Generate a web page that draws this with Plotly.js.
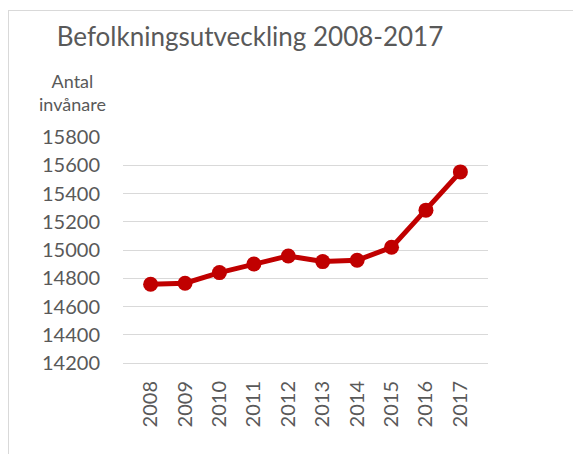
<!DOCTYPE html>
<html>
<head>
<meta charset="utf-8">
<script src="https://cdn.plot.ly/plotly-3.0.1.min.js"></script>
<style>
  html, body { margin: 0; padding: 0; background: #fff; }
  #wrap { position: relative; width: 573px; height: 454px; overflow: hidden; }
  #frame { position: absolute; left: 8px; top: 10px; width: 600px; height: 500px;
           border-left: 1px solid #d9d9d9; border-top: 1px solid #d9d9d9; pointer-events: none; }
  #chart { position: absolute; left: 0; top: 0; width: 573px; height: 454px; }
</style>
</head>
<body>
<div id="wrap">
  <div id="chart"></div>
  <div id="frame"></div>
</div>
<script>
const years = ['2008','2009','2010','2011','2012','2013','2014','2015','2016','2017'];
const population = [14758, 14765, 14840, 14901, 14958, 14918, 14927, 15019, 15282, 15553];
const yTicks = [14200, 14400, 14600, 14800, 15000, 15200, 15400, 15600, 15800];

const FONT = 'Lato, "Open Sans", sans-serif';
const GREY = '#595959';

Plotly.newPlot('chart', [{
  x: years,
  y: population,
  type: 'scatter',
  mode: 'lines+markers',
  line: { color: '#C00000', width: 5 },
  marker: { color: '#C00000', size: 15 },
  hoverinfo: 'x+y'
}], {
  width: 573, height: 454,
  margin: { l: 123, r: 85, t: 137, b: 91 },
  paper_bgcolor: '#fff', plot_bgcolor: '#fff',
  font: { family: FONT, color: GREY },
  title: {
    text: 'Befolkningsutveckling 2008-2017',
    font: { family: FONT, size: 26, color: GREY },
    xref: 'container', x: 250 / 573, xanchor: 'center',
    yref: 'container', y: 1 - 37 / 454, yanchor: 'middle'
  },
  xaxis: {
    type: 'category',
    tickangle: -90,
    tickfont: { family: FONT, size: 20, color: GREY },
    showgrid: false,
    showline: true, linecolor: '#d9d9d9', linewidth: 1,
    ticks: '', ticklabelstandoff: 9,
    fixedrange: true
  },
  yaxis: {
    range: [14200, 15800],
    tickvals: yTicks,
    ticktext: yTicks.map(String),
    tickfont: { family: FONT, size: 20, color: GREY },
    showgrid: true, gridcolor: '#d9d9d9', gridwidth: 1,
    zeroline: false, showline: false,
    ticks: '', ticklabelstandoff: 22,
    fixedrange: true
  },
  annotations: [{
    text: 'Antal<br>invånare',
    xref: 'paper', yref: 'paper',
    x: (72 - 123) / 365, y: (363 - 92) / 226,
    xanchor: 'center', yanchor: 'middle',
    align: 'center',
    showarrow: false,
    font: { family: FONT, size: 18, color: GREY }
  }],
  showlegend: false
}, { displayModeBar: false, staticPlot: true });
</script>
</body>
</html>
